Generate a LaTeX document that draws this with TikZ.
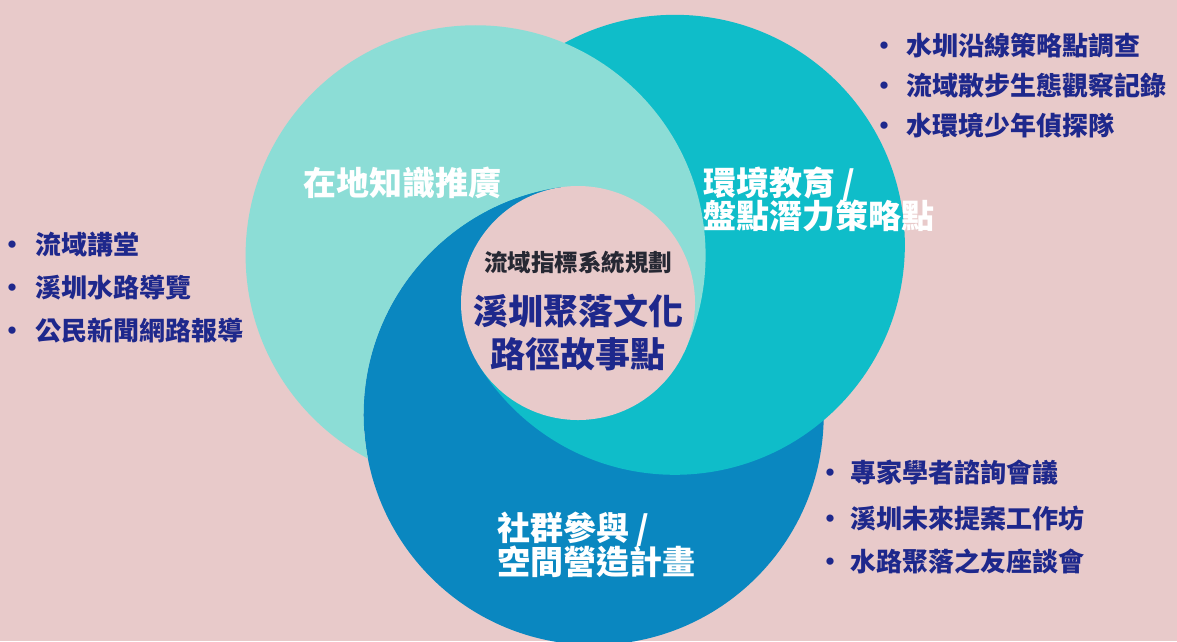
\documentclass[tikz,border=0pt]{standalone}
\usepackage{fontspec}
\setmainfont{Noto Sans CJK TC}
\usetikzlibrary{calc}
\definecolor{bg}{HTML}{E8CACA}
\definecolor{cl}{HTML}{8CDDD6}
\definecolor{ct}{HTML}{0FBDC9}
\definecolor{cd}{HTML}{0A87C0}
\definecolor{navy}{HTML}{1E288C}
\definecolor{gry}{HTML}{262833}
\begin{document}
\begin{tikzpicture}[x=1pt,y=-1pt,
  bigtxt/.style={font=\bfseries\fontsize{33}{33}\selectfont, text=white, inner sep=0pt, anchor=base west},
  lsttxt/.style={font=\bfseries\fontsize{26}{26}\selectfont, text=navy, inner sep=0pt, anchor=base west},
  ring/.style={radius=230}]
\fill[bg] (0,0) rectangle (1177,641);
\useasboundingbox (0,0) rectangle (1177,641);
\coordinate (C) at (578,303);
\coordinate (Lc) at ($(C)+(205:113)$);
\coordinate (Tc) at ($(C)+(329:113)$);
\coordinate (Dc) at ($(C)+(82:113)$);
% dark and teal circles (teal over dark)
\fill[cd] (Dc) circle[ring];
\fill[ct] (Tc) circle[ring];
% light: inside L, outside D, plus the upper-right sector of the triple overlap
\begin{scope}
  \clip (Lc) circle[ring];
  \fill[cl] (-10,-10) -- (1187,-10) -- (1187,651) -- (-10,651) -- cycle
    ($(Dc)+(0:230)$) arc[start angle=0, end angle=-360, radius=230]
    (C) -- ($(C)+(262:1000)$) -- ($(C)+(323:1000)$) -- ($(C)+(385:1000)$) -- cycle;
\end{scope}
% dark: left sector of the overlap of D and L
\begin{scope}
  \clip (Dc) circle[ring];
  \clip (Lc) circle[ring];
  \fill[cd] (C) -- ($(C)+(149:1000)$) -- ($(C)+(205:1000)$) -- ($(C)+(262:1000)$) -- cycle;
\end{scope}
% central circle
\fill[bg] (C) circle[radius=117];
% circle labels
\node[bigtxt] (k1) at (303,195.5) {在地知識推廣};
\node[bigtxt] (k2a) at (703,195.5) {環境教育 /};
\node[bigtxt] (k2b) at (703,228.5) {盤點潛力策略點};
\node[bigtxt] (k3a) at (497,540.5) {社群參與 /};
\node[bigtxt] (k3b) at (497,574.5) {空間營造計畫};
% centre text
\node[font=\bfseries\fontsize{23.5}{23.5}\selectfont, text=gry, inner sep=0pt, anchor=base] (c1) at (578,271) {流域指標系統規劃};
\node[font=\bfseries\fontsize{35}{35}\selectfont, text=navy, inner sep=0pt, anchor=base] (c2) at (578,324.5) {溪圳聚落文化};
\node[font=\bfseries\fontsize{35}{35}\selectfont, text=navy, inner sep=0pt, anchor=base] (c3) at (578,367.5) {路徑故事點};
% lists
\node[lsttxt] (r1) at (871,55) {・\hspace{9pt}水圳沿線策略點調查};
\node[lsttxt] (r2) at (871,95) {・\hspace{9pt}流域散步生態觀察記錄};
\node[lsttxt] (r3) at (871,135) {・\hspace{9pt}水環境少年偵探隊};
\node[lsttxt] (l1) at (-1,254) {・\hspace{10pt}流域講堂};
\node[lsttxt] (l2) at (-1,297) {・\hspace{10pt}溪圳水路導覽};
\node[lsttxt] (l3) at (-1,340) {・\hspace{10pt}公民新聞網路報導};
\node[lsttxt] (b1) at (817,482) {・\hspace{7pt}專家學者諮詢會議};
\node[lsttxt] (b2) at (817,528) {・\hspace{7pt}溪圳未來提案工作坊};
\node[lsttxt] (b3) at (817,571) {・\hspace{7pt}水路聚落之友座談會};
\end{tikzpicture}
\end{document}
